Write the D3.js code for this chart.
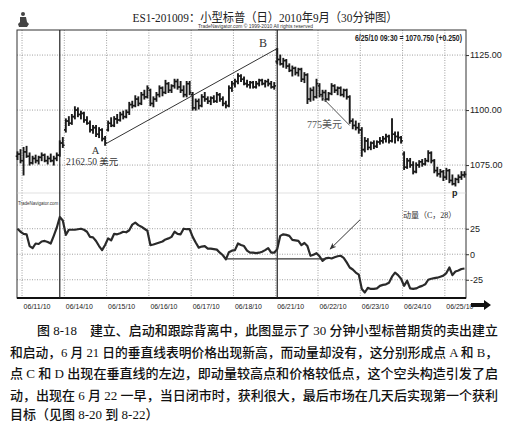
<!DOCTYPE html>
<html><head><meta charset="utf-8">
<script src="https://cdn.jsdelivr.net/npm/d3@7"></script>
<style>body{margin:0;background:#fff}svg{display:block}</style>
</head><body><svg id="c" width="507" height="426"></svg>
<script>
// ---------- data ----------
const titleText = "ES1-201009：小型标普（日）2010年9月（30分钟图）";
const dayLabels = ["", "06/11/10","06/14/10","06/15/10","06/16/10","06/17/10","06/18/10","06/21/10","06/22/10","06/23/10","06/24/10","06/25/10"];
const dayBarCounts = [2,14,14,14,14,14,14,14,14,14,14,7];
const opens = [1079,1080,
 1077,1081,1079,1076,1078,1077,1078.5,1079.5,1077,1078,1077,1078,1079.5,1085,
 1091,1095,1094,1097,1100,1098,1098.5,1095.5,1094,1091,1092,1089,1091,1087,
 1091,1094,1093,1096,1095.5,1098,1097,1099,1102.5,1102,1105,1103,1107,1106,
 1109,1103,1105,1107,1110,1108,1112,1109,1111,1113,1110.5,1109,1107,1112,
 1107,1101,1104,1102,1106,1105,1104,1105.5,1104,1107,1105,1103,1102,1110,
 1112,1113,1115.5,1114,1112,1111.5,1112.5,1110.5,1112,1113.5,1112,1113,1112,1110.5,
 1122,1123,1121,1122.5,1120,1118,1119,1117,1118.5,1114,1116,1105,1109,1106,
 1111,1107,1108,1105,1107.5,1111,1109,1110,1107,1109,1106,1095,1093,1092,
 1091,1082,1086,1083,1085,1083.5,1085.5,1086,1087,1088,1086,1089,1088,1087.5,
 1080,1074,1077,1075,1072,1075,1076.5,1075.5,1077,1080.5,1077,1072.5,1071,1072,
 1069.5,1072.5,1068,1066.5,1068.5,1069.5,1070.5];
const highs = [1081,1082,
 1083,1083.5,1080.5,1079,1079.5,1079,1080.5,1080,1079,1080,1079,1080.5,1086,1087.5,
 1096,1097,1098,1101.5,1101,1099.5,1099,1097,1095,1093,1093,1092,1091.5,1088,
 1095,1096.5,1097,1098,1099,1099.5,1100,1103.5,1104,1106.5,1106,1108,1109,1111,
 1109.5,1106,1108,1111,1110.5,1113.5,1112.5,1111.5,1114,1114,1113,1111,1113,1113,
 1108,1105,1105,1107,1108,1106,1106,1106.5,1108,1107.5,1106,1104,1111,1113,
 1114,1116.5,1116,1115,1113.5,1113,1113,1113,1114,1114,1113.5,1114,1113,1112.5,
 1128,1125,1123.5,1123,1121,1120,1119.5,1119,1119,1117,1116.5,1110,1110.5,1114,
 1112,1109,1109,1108,1112,1111.5,1110.5,1110.5,1109.5,1109.5,1106.5,1096,1095,1094,
 1092,1087.5,1087,1085.5,1086,1086,1087.5,1088,1089,1088.5,1096,1090,1090,1088,
 1081,1078,1078,1076.5,1076,1077,1077.5,1078,1081.5,1081,1077.5,1074,1073,1072.5,
 1073.5,1073,1070.5,1069,1070.5,1072,1072];
const lows = [1077.5,1076,
 1070.5,1078.5,1075,1075.5,1076,1075.5,1077,1076.5,1075.5,1076.5,1075,1077,1079,1083,
 1090,1093,1093.5,1096,1097,1096,1094.5,1093.5,1090,1089.5,1088,1087.5,1086,1084,
 1090.5,1092.5,1092.5,1094,1095,1096,1096.5,1098,1101,1101.5,1102,1102.5,1105,1105.5,
 1102,1101.5,1104,1106,1106.5,1107.5,1108,1108,1110,1109.5,1108,1106,1106,1107,
 1100,1100,1100.5,1101.5,1104,1103,1102.5,1103.5,1103.5,1104,1102,1101,1101.5,1108.5,
 1110.5,1112,1113,1111.5,1110.5,1110,1110,1110,1111,1111.5,1110.5,1111,1110,1109.5,
 1121,1120.5,1119.5,1119,1117.5,1115.5,1116,1115.5,1113,1112.5,1103,1104,1104.5,1105.5,
 1106,1104.5,1104,1104.5,1107,1108,1107,1106.5,1106,1105,1094,1091.5,1091,1089.5,
 1079,1081,1082,1082,1082.5,1083,1084.5,1085,1085.5,1085,1085.5,1085,1086,1085,
 1073,1073.5,1074,1071,1071.5,1074,1074.5,1075,1076.5,1076,1071.5,1070,1069.5,1068,
 1068.5,1067,1066,1065.5,1067,1068.5,1069.5];
const closes = [1080,1077,
 1081,1079,1076,1078,1077,1078.5,1079.5,1077,1078,1077,1078,1079.5,1085,1084,
 1095,1094,1097,1100,1098,1098.5,1095.5,1094,1091,1092,1089,1091,1087,1085,
 1094,1093,1096,1095.5,1098,1097,1099,1102.5,1102,1105,1103,1107,1106,1110,
 1103,1105,1107,1110,1108,1112,1109,1111,1113,1110.5,1109,1107,1112,1108,
 1101,1104,1102,1106,1105,1104,1105.5,1104,1107,1105,1103,1102,1110,1112,
 1113,1115.5,1114,1112,1111.5,1112.5,1110.5,1112,1113.5,1112,1113,1112,1110.5,1111,
 1123,1121,1122.5,1120,1118,1119,1117,1118.5,1114,1116,1105,1109,1106,1112,
 1107,1108,1105,1107.5,1111,1109,1110,1107,1109,1106,1095,1093,1092,1091,
 1082,1086,1083,1085,1083.5,1085.5,1086,1087,1088,1086,1089,1088,1087.5,1086,
 1074,1077,1075,1072,1075,1076.5,1075.5,1077,1080.5,1077,1072.5,1071,1072,1069.5,
 1072.5,1068,1066.5,1068.5,1069.5,1070.5,1070.75];
const momentum = [25,22,
 20,19.5,8,6,10.5,10,12.5,13,12,10.5,18,26,36.5,33,
 19,24,24,24,24.5,25,24,22,17,16.5,13,8,4,9,
 15.5,13.5,20,19.5,20.5,22,21.5,23.5,29,31,28.5,27,25,23,
 9,9.5,10.5,11.5,12.5,14.5,15.5,17,22,20,19.5,25,24.5,24.5,
 17,11.5,6.5,7.5,8,5.5,5.5,5,4.5,1.5,-1,-5,2,3.5,
 4,10.5,9,8,3.5,1.5,1.5,1,1.5,2.5,4,6,1.5,1.5,
 5,18,19.5,19,18,14,13.5,13,9,11,8,-1.5,-0.5,1,
 -2,-6.5,-4,-3.5,-4.2,-3,-2,-1.5,-3.5,-8,-13,-15,-18,-20,
 -34,-37.5,-33,-34,-34,-33.5,-31,-30,-29.5,-28,-22,-18,-20.5,-24,
 -31,-26,-33.5,-34,-33.5,-32,-31,-29.5,-25,-24,-23.5,-23,-22,-21,
 -18.5,-13,-20.5,-17,-16,-14.5,-14];
const priceTicks = [1125, 1100, 1075];
const momTicks = [25, 0, -25];
const markerBars = [14, 86];             // solid vertical lines
const trendAB = [[29, 1084.5], [86, 1128]];
const trendD = [[100, 1107], [110, 1093]];
const momLevel = [[69, -4.5], [102, -4.5]];
const momArrow = [[113.5, 34], [103.5, 5]];
const captionLines = [
 "图 8-18　建立、启动和跟踪背离中，此图显示了 30 分钟小型标普期货的卖出建立",
 "和启动，6 月 21 日的垂直线表明价格出现新高，而动量却没有，这分别形成点 A 和 B，",
 "点 C 和 D 出现在垂直线的左边，即动量较高点和价格较低点，这个空头构造引发了启",
 "动，出现在 6 月 22 一早，当日闭市时，获利很大，最后市场在几天后实现第一个获利",
 "目标（见图 8-20 到 8-22）"
];

// ---------- layout ----------
const svg = d3.select("#c");
const L = 17, R = 466, PT = 30, PB = 193, MT = 193, MB = 298;
const nBars = closes.length;
const x = d3.scaleLinear().domain([0, nBars]).range([16, 466]);
const yP = d3.scaleLinear().domain([1062.3, 1136.4]).range([PB, PT]);
const yM = d3.scaleLinear().domain([-42.9, 60]).range([MB, MT]);
const narrow = "'Liberation Sans Narrow','Arial Narrow','Liberation Sans',sans-serif";
const serifCJK = "'Liberation Serif','Noto Sans CJK SC',serif";

svg.append("rect").attr("width",507).attr("height",426).attr("fill","#fff");

const dayStarts = [];
let acc = 0;
dayBarCounts.forEach((c,i)=>{ dayStarts.push(acc); acc += c; });

// grid
const g = svg.append("g");
dayStarts.slice(1).forEach(s=>{
  g.append("line").attr("x1",x(s)).attr("x2",x(s)).attr("y1",PT).attr("y2",MB)
   .attr("stroke","#888").attr("stroke-width",0.8).attr("stroke-dasharray","1,1.5");
});
priceTicks.forEach(t=>{
  g.append("line").attr("x1",L).attr("x2",R).attr("y1",yP(t)).attr("y2",yP(t))
   .attr("stroke","#888").attr("stroke-width",0.8).attr("stroke-dasharray","1,1.5");
});
momTicks.forEach(t=>{
  g.append("line").attr("x1",L).attr("x2",R).attr("y1",yM(t)).attr("y2",yM(t))
   .attr("stroke","#888").attr("stroke-width",0.8).attr("stroke-dasharray","1,1.5");
});

// frame
svg.append("rect").attr("x",L).attr("y",PT).attr("width",R-L).attr("height",MB-PT)
  .attr("fill","none").attr("stroke","#333").attr("stroke-width",1);
svg.append("line").attr("x1",L).attr("x2",R).attr("y1",MB).attr("y2",MB).attr("stroke","#111").attr("stroke-width",2);
svg.append("line").attr("x1",L).attr("x2",R).attr("y1",PB).attr("y2",PB).attr("stroke","#ccc").attr("stroke-width",0.6);

markerBars.forEach(b=>{
  svg.append("line").attr("x1",x(b+0.5)).attr("x2",x(b+0.5)).attr("y1",PT).attr("y2",MB)
   .attr("stroke","#222").attr("stroke-width",1.2);
});

// price bars
const bars = svg.append("g").attr("stroke","#1a1a1a").attr("stroke-width",1.9);
const bw = (x(1)-x(0));
d3.range(nBars).forEach(i=>{
  const cx = x(i+0.5);
  bars.append("line").attr("x1",cx).attr("x2",cx).attr("y1",yP(highs[i])-0.5).attr("y2",yP(lows[i])+0.5);
  bars.append("line").attr("x1",cx-bw*0.6).attr("x2",cx).attr("y1",yP(opens[i])).attr("y2",yP(opens[i])).attr("stroke-width",1.6);
  bars.append("line").attr("x1",cx).attr("x2",cx+bw*0.6).attr("y1",yP(closes[i])).attr("y2",yP(closes[i])).attr("stroke-width",1.6);
});

const lineP = d3.line().x(d=>x(d[0]+0.5)).y(d=>yP(d[1]));
svg.append("path").attr("d",lineP(trendAB)).attr("fill","none").attr("stroke","#333").attr("stroke-width",1);
svg.append("path").attr("d",lineP(trendD)).attr("fill","none").attr("stroke","#555").attr("stroke-width",1);

// momentum
const lineM = d3.line().x((d,i)=>x(i+0.5)).y(d=>yM(d));
svg.append("path").attr("d",lineM(momentum)).attr("fill","none").attr("stroke","#2a2a2a").attr("stroke-width",2.2).attr("stroke-linejoin","round");
const lineM2 = d3.line().x(d=>x(d[0]+0.5)).y(d=>yM(d[1]));
svg.append("path").attr("d",lineM2(momLevel)).attr("fill","none").attr("stroke","#333").attr("stroke-width",1.2);
const defs = svg.append("defs");
defs.append("marker").attr("id","ah").attr("viewBox","0 0 10 10").attr("refX",9).attr("refY",5)
  .attr("markerWidth",7).attr("markerHeight",7).attr("orient","auto")
  .append("path").attr("d","M0,1 L10,5 L0,9 L3,5 Z").attr("fill","#333");
svg.append("path").attr("d",lineM2(momArrow)).attr("fill","none").attr("stroke","#333").attr("stroke-width",1).attr("marker-end","url(#ah)");

// right axes
const axP = d3.axisRight(yP).tickValues(priceTicks).tickSize(3).tickFormat(d3.format(".2f"));
const gP = svg.append("g").attr("transform",`translate(${R},0)`).call(axP);
const axM = d3.axisRight(yM).tickValues(momTicks).tickSize(3).tickFormat(d=>d);
const gM = svg.append("g").attr("transform",`translate(${R},0)`).call(axM);
[gP,gM].forEach(a=>{
  a.select(".domain").remove();
  a.selectAll("line").attr("stroke","#333");
  a.selectAll("text").attr("font-family",narrow).attr("font-size",9).attr("fill","#222").attr("x",4);
});

// bottom axis (dates)
const axD = d3.axisBottom(x).tickValues(dayStarts.slice(1)).tickSize(0)
  .tickFormat((d,i)=>dayLabels[i+1]);
const gD = svg.append("g").attr("transform",`translate(0,${MB})`).call(axD);
gD.select(".domain").remove();
gD.selectAll("text").attr("font-family",narrow).attr("font-size",8).attr("fill","#222")
  .attr("text-anchor","start").attr("dx",1).attr("y",5)
  .attr("textLength",27).attr("lengthAdjust","spacingAndGlyphs");
svg.append("path").attr("d","M471,303 L484,303 L484,300 L491,305 L484,310 L484,307 L471,307 Z").attr("fill","#111");

// texts
svg.append("text").attr("x",265).attr("y",21.5).attr("text-anchor","middle")
  .attr("font-family",serifCJK).attr("font-size",12.5).attr("fill","#222")
  .attr("textLength",265).attr("lengthAdjust","spacingAndGlyphs").text(titleText);
svg.append("text").attr("x",198).attr("y",28).attr("font-family",narrow).attr("font-size",5.5)
  .attr("fill","#333").attr("textLength",115).attr("lengthAdjust","spacingAndGlyphs")
  .attr("text-decoration","underline").text("TradeNavigator.com © 1999-2010 All rights reserved");
svg.append("text").attr("x",462).attr("y",41).attr("text-anchor","end").attr("font-family",narrow)
  .attr("font-size",9.5).attr("font-weight","bold").attr("fill","#222")
  .attr("textLength",107).attr("lengthAdjust","spacingAndGlyphs").text("6/25/10 09:30 = 1070.750 (+0.250)");
svg.append("text").attr("x",18).attr("y",205).attr("font-family",narrow).attr("font-size",4.5)
  .attr("fill","#333").text("TradeNavigator.com");
const logo = svg.append("g").attr("fill","#444");
logo.append("circle").attr("cx",23).attr("cy",14).attr("r",2);
logo.append("path").attr("d","M20,17 L26,17 L27,22 L29,24 L27,27 L19,27 L18,24 L20,22 Z");

svg.append("text").attr("x",263).attr("y",47).attr("text-anchor","middle").attr("font-family",serifCJK)
  .attr("font-size",12).attr("fill","#333").text("B");
svg.append("text").attr("x",95.5).attr("y",154).attr("text-anchor","middle").attr("font-family",serifCJK)
  .attr("font-size",10.5).attr("fill","#333").text("A");
svg.append("text").attr("x",66).attr("y",165).attr("font-family",serifCJK)
  .attr("font-size",9.5).attr("fill","#333").text("2162.50 美元");
svg.append("text").attr("x",307).attr("y",128).attr("font-family",serifCJK)
  .attr("font-size",10).attr("fill","#555").text("775美元");
svg.append("text").attr("x",403).attr("y",218).attr("font-family",serifCJK)
  .attr("font-size",8).attr("fill","#333").text("动量（C，28）");
svg.append("text").attr("x",452).attr("y",196).attr("font-family",narrow)
  .attr("font-size",9).attr("font-weight","bold").attr("fill","#222").text("p");

// caption
const capY = [335, 356.5, 378, 399.5, 419];
captionLines.forEach((t,i)=>{
  const tx = svg.append("text").attr("x", i===0?37:10).attr("y",capY[i])
    .attr("font-family",serifCJK).attr("font-size",13).attr("font-weight",500).attr("fill","#111").text(t);
  if(i<4) tx.attr("textLength", i===0?461:488).attr("lengthAdjust","spacingAndGlyphs");
});
</script></body></html>
